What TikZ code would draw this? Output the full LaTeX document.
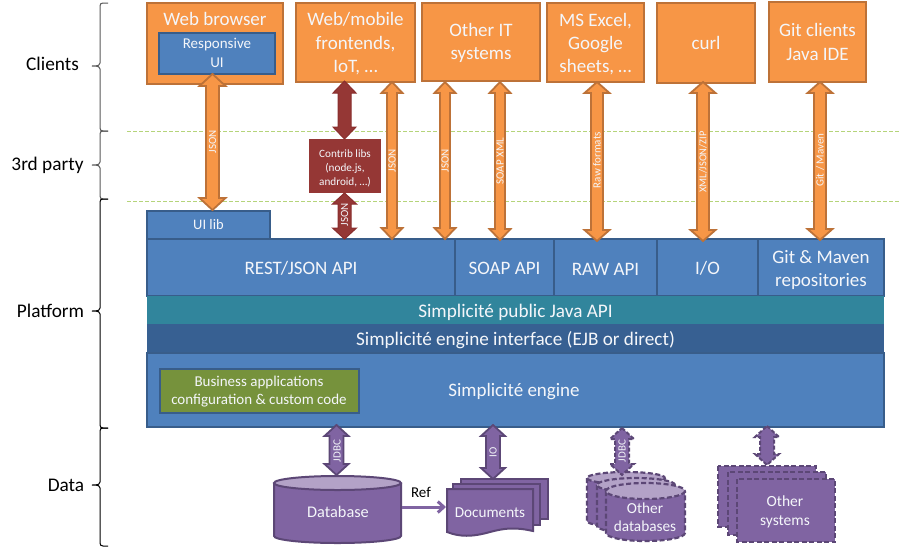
\documentclass[tikz,border=0pt]{standalone}
\usepackage{fontspec}
\setmainfont{Carlito}
\usetikzlibrary{calc,arrows.meta}
\definecolor{orF}{HTML}{F79646}
\definecolor{orD}{HTML}{BD7238}
\definecolor{blF}{HTML}{4F81BD}
\definecolor{blD}{HTML}{385D8A}
\definecolor{rdF}{HTML}{953735}
\definecolor{rdD}{HTML}{8A2F2E}
\definecolor{puF}{HTML}{8064A2}
\definecolor{puD}{HTML}{5C4776}
\definecolor{puL}{HTML}{B3A2C7}
\definecolor{teF}{HTML}{31859C}
\definecolor{dbF}{HTML}{376092}
\definecolor{grF}{HTML}{76923C}
\definecolor{sepgreen}{HTML}{B5D47A}
\definecolor{txW}{HTML}{F4F6FA}
\newcommand{\dn}[1]{\rule{0pt}{#1pt}}
\tikzset{
  boxbase/.style={rectangle,inner sep=0pt,outer sep=0pt,line width=2pt,anchor=north west,align=center,text=txW},
  orbox/.style={boxbase,draw=orD,fill=orF,font=\fontsize{19}{23.5}\selectfont},
  blbox/.style={boxbase,draw=blD,fill=blF,font=\fontsize{19}{23}\selectfont},
  tebox/.style={boxbase,fill=teF,font=\fontsize{19.2}{22}\selectfont},
  dkbox/.style={boxbase,fill=dbF,font=\fontsize{19.2}{22}\selectfont},
  grbox/.style={boxbase,draw=blD,fill=grF,font=\fontsize{15}{18}\selectfont},
  rdbox/.style={boxbase,fill=rdF,font=\fontsize{11.2}{14}\selectfont},
  orarrow/.style={draw=orD,fill=orF,line width=1.8pt,line join=miter},
  rdarrow/.style={draw=rdD,fill=rdF,line width=1pt,line join=miter},
  puarrow/.style={draw=puD,fill=puF,line width=1.8pt,line join=miter},
  puarrowd/.style={draw=puD,fill=puF,line width=2pt,dash pattern=on 4pt off 2pt},
  pushape/.style={draw=puD,fill=puF,line width=2pt},
  pushaped/.style={draw=puD,fill=puF,line width=2.2pt,dash pattern=on 5pt off 2.5pt},
  pulight/.style={draw=puD,fill=puL,line width=2pt},
  pulightd/.style={draw=puD,fill=puL,line width=2.2pt,dash pattern=on 5pt off 2.5pt},
  sidetxt/.style={inner sep=0pt,font=\fontsize{19.3}{22}\selectfont,text=black},
  wtxt/.style={inner sep=0pt,align=center,text=txW},
  arrlab/.style={inner sep=0pt,rotate=90,text=txW,font=\fontsize{11}{12}\selectfont},
  sepline/.style={draw=sepgreen,line width=1pt,dash pattern=on 3.5pt off 2.5pt},
  bracep/.style={draw=#1,line width=1pt},
  hidden/.style={rectangle,inner sep=0pt,outer sep=0pt,anchor=north west}
}
% #1 style, #2 x, #3 top node, #4 top offset, #5 bottom node, #6 bottom offset,
% #7 shaft half width, #8 head half width, #9 head length
\newcommand{\dblarrow}[9]{%
  \coordinate (ax) at (#2,0);
  \coordinate (at) at ($(#3 -| ax)+(0,#4)$);
  \coordinate (ab) at ($(#5 -| ax)+(0,#6)$);
  \path[#1] (at) -- ($(at)+(#8,#9)$) -- ($(at)+(#7,#9)$) -- ($(ab)+(#7,-#9)$) -- ($(ab)+(#8,-#9)$)
    -- (ab) -- ($(ab)+(-#8,-#9)$) -- ($(ab)+(-#7,-#9)$) -- ($(at)+(-#7,#9)$) -- ($(at)+(-#8,#9)$) -- cycle;
}
% #1 body style, #2 top style, #3 x1, #4 x2, #5 top, #6 bottom, #7 ry
\newcommand{\cyl}[7]{%
  \pgfmathsetmacro{\cx}{(#3+#4)/2}\pgfmathsetmacro{\crx}{(#4-#3)/2}
  \pgfmathsetmacro{\ct}{#5+#7}\pgfmathsetmacro{\cb}{#6-#7}
  \path[#1] (#3,\ct) -- (#3,\cb) arc[start angle=180,end angle=0,x radius=\crx,y radius=#7] -- (#4,\ct);
  \path[#2] (\cx,\ct) ellipse[x radius=\crx,y radius=#7];
}
\newcommand{\sidebrace}[5]{%
  \path[bracep=#5] (#1,#2) -- (103,#2) .. controls (101,#2) and (100,#2+1) .. (100,#2+3)
    -- (100,#3-3) .. controls (100,#3-1) and (99,#3) .. (92,#3)
    (92,#3) .. controls (99,#3) and (100,#3+1) .. (100,#3+3)
    -- (100,#4-3) .. controls (100,#4-1) and (101,#4) .. (103,#4) -- (#1,#4);
}
\begin{document}
\begin{tikzpicture}[x=1pt,y=-1pt]
\useasboundingbox (0,0) rectangle (900,547);
\fill[white] (0,0) rectangle (900,547);

% separators
\coordinate (sepa) at (127,131); \coordinate (sepae) at (900,131);
\coordinate (sepb) at (127,201); \coordinate (sepbe) at (900,201);
\path[sepline] (sepa) -- (sepae);
\path[sepline] (sepb) -- (sepbe);

% side braces and labels
\sidebrace{108}{3}{66}{131}{black!65}
\sidebrace{108}{131}{165}{199}{black!65}
\sidebrace{108}{199}{311}{428}{black}
\sidebrace{108}{428}{485}{546}{black}
\node[sidetxt] (lclients) at (52.5,64.3) {Clients};
\node[sidetxt] (lthird) at (47.5,165.5) {3rd party};
\node[sidetxt] (lplat) at (50.5,311.3) {Platform};
\node[sidetxt] (ldata) at (66,485.3) {Data};

% clients
\node[orbox,minimum width=136pt,minimum height=81pt] (web) at (147,3) {};
\node[wtxt,font=\fontsize{19}{23}\selectfont] (webt) at (215,19) {Web browser};
\node[boxbase,draw=blD,fill=blF,minimum width=116pt,minimum height=41pt,font=\fontsize{15}{18.5}\selectfont] (resp) at (159,32.5) {Responsive\\UI};
\node[orbox,minimum width=119pt,minimum height=79pt] (front) at (296,3) {\dn{16}Web/mobile\\frontends,\\IoT, \dots};
\node[orbox,minimum width=118pt,minimum height=78pt] (oit) at (422,3) {\dn{15}Other IT\\systems};
\node[orbox,minimum width=97pt,minimum height=79pt,font=\fontsize{19}{23}\selectfont] (excel) at (547,3) {\dn{15.5}MS Excel,\\Google\\sheets, \dots};
\node[orbox,minimum width=98pt,minimum height=80pt] (curl) at (657,3) {curl};
\node[orbox,minimum width=97pt,minimum height=80pt] (git) at (769,2) {Git clients\\Java IDE};

% platform
\node[blbox,minimum width=123pt,minimum height=28pt,font=\fontsize{14.5}{18}\selectfont] (uilib) at (147,211) {UI lib};
\node[blbox,minimum width=308pt,minimum height=57pt] (rest) at (147,239) {\dn{15}REST/JSON API};
\node[blbox,minimum width=99pt,minimum height=57pt] (soap) at (455,239) {\dn{15}SOAP API};
\node[blbox,minimum width=103pt,minimum height=57pt] (raw) at (554,239) {\dn{15}RAW API};
\node[blbox,minimum width=101pt,minimum height=57pt] (io) at (657,239) {\dn{15}I/O};
\node[blbox,minimum width=126pt,minimum height=57pt] (repo) at (758,239) {\dn{17.5}Git \& Maven\\repositories};
\node[tebox,minimum width=737pt,minimum height=28pt] (pub) at (147,296) {\dn{19}Simplicité public Java API};
\node[dkbox,minimum width=737pt,minimum height=29pt] (iface) at (147,324) {\dn{17.5}Simplicité engine interface (EJB or direct)};
\node[blbox,minimum width=737pt,minimum height=74pt] (engine) at (147,353) {};
\node[wtxt,font=\fontsize{19}{22}\selectfont] (enginet) at (514,392) {Simplicité engine};
\node[grbox,minimum width=199pt,minimum height=44pt] (biz) at (159.5,368.5) {\dn{13.5}Business applications\\configuration \& custom code};

% contrib libs
\node[rdbox,minimum width=72pt,minimum height=54pt] (contrib) at (309,139) {\dn{12}Contrib libs\\(node.js,\\android, \dots)};

% upper arrows
\dblarrow{orarrow}{212.5}{web.south}{-10}{uilib.north}{-1}{6.5}{13}{12}
\node[arrlab] (l1) at (212.5,142) {JSON};
\dblarrow{rdarrow}{344.5}{front.south}{-1}{contrib.north}{0}{6.5}{11.5}{12}
\dblarrow{rdarrow}{344.5}{contrib.south}{0}{rest.north}{0}{6.5}{12}{11}
\node[arrlab] (l2) at (344.5,215) {JSON};
\dblarrow{orarrow}{392}{front.south}{0}{rest.north}{0}{5}{10.5}{11}
\node[arrlab] (l3) at (392,161) {JSON};
\dblarrow{orarrow}{445}{oit.south}{1}{rest.north}{0}{5}{10.5}{11}
\node[arrlab] (l4) at (445,161) {JSON};
\dblarrow{orarrow}{500}{oit.south}{1}{soap.north}{1}{5}{10.5}{11}
\node[arrlab] (l5) at (500,161) {SOAP XML};
\dblarrow{orarrow}{597}{excel.south}{0}{raw.north}{2}{6}{12.5}{11}
\node[arrlab] (l6) at (597,160) {Raw formats};
\dblarrow{orarrow}{703}{curl.south}{-1}{io.north}{2}{6}{12.5}{11}
\node[arrlab,font=\fontsize{10.5}{12}\selectfont] (l7) at (703,162) {XML/JSON/ZIP};
\dblarrow{orarrow}{820}{git.south}{0}{repo.north}{1}{6}{12.5}{11}
\node[arrlab] (l8) at (820,160) {Git / Maven};

% data
\node[hidden,minimum width=128pt,minimum height=67pt] (dbn) at (274,476) {};
\node[hidden,minimum width=101pt,minimum height=56pt] (docn) at (447,479) {};
\node[hidden,minimum width=98pt,minimum height=69pt] (odbn) at (587,472) {};
\node[hidden,minimum width=117pt,minimum height=76pt] (osysn) at (718,466) {};

\cyl{pushape}{pulight}{274}{401}{476}{543}{7}
\node[wtxt,font=\fontsize{16.3}{18}\selectfont] (dbt) at (338,512) {Database};

\path[pushape] (461,479) rectangle (548,519);
\path[pushape] (453,484) rectangle (540,525);
\path[pushape] (447,489) -- (533,489) -- (533,531) .. controls (515,527) and (505,528) .. (490,532) .. controls (472,537) and (460,537) .. (447,532) -- cycle;
\node[wtxt,font=\fontsize{15.2}{18}\selectfont] (doct) at (490,513) {Documents};

\coordinate (refy) at (0,507);
\draw[puF,line width=3pt,-{Straight Barb[length=6pt,width=11pt]}] (dbn.east |- refy) -- ([xshift=-1pt]docn.west |- refy);
\node[inner sep=0pt,text=black,font=\fontsize{15}{16}\selectfont] (ref) at (421,492) {Ref};

\cyl{pushaped}{pulightd}{587}{665}{472}{527}{6}
\cyl{pushaped}{pulightd}{597}{675}{478}{533}{7}
\cyl{pushaped}{pulightd}{606}{685}{483}{541}{8}
\node[wtxt,font=\fontsize{15.3}{18}\selectfont] (odbt) at (645,517) {Other\\databases};

\path[pushaped] (718,466) rectangle (816,527);
\path[pushaped] (728,472) rectangle (826,535);
\path[pushaped] (737,479) rectangle (835,542);
\node[wtxt,font=\fontsize{15.5}{19}\selectfont] (osyst) at (785,512) {Other\\systems};

\dblarrow{puarrow}{336.5}{engine.south}{-2}{dbn.north}{-1}{7}{12}{11}
\node[arrlab] (l9) at (337,451) {JDBC};
\dblarrow{puarrow}{493}{engine.south}{-2}{docn.north}{0}{7}{12}{11}
\node[arrlab] (l10) at (493,452) {IO};
\dblarrow{puarrowd}{622}{engine.south}{1}{odbn.north}{3}{7}{12}{11}
\node[arrlab] (l11) at (622,451) {JDBC};
\dblarrow{puarrowd}{767}{engine.south}{-1}{osysn.north}{-1}{7}{12}{11}
\end{tikzpicture}
\end{document}
